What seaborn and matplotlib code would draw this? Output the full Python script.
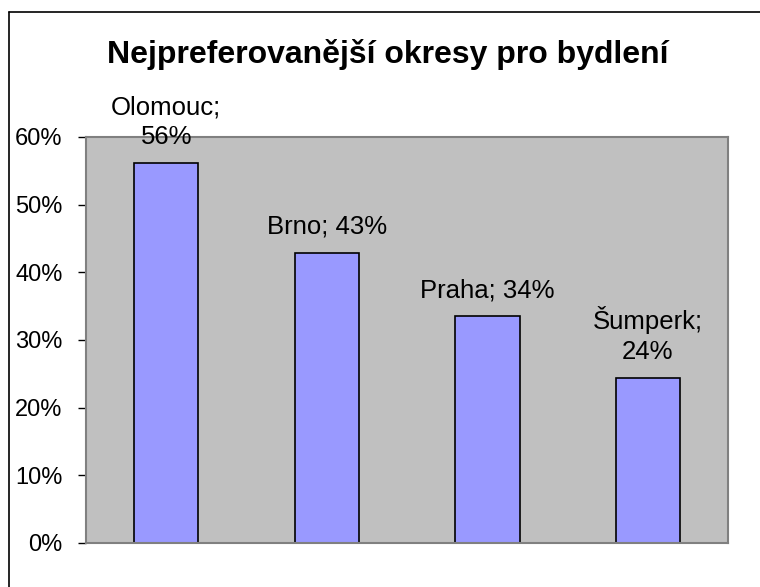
import seaborn as sns
import matplotlib.pyplot as plt
import matplotlib.lines as mlines
import pandas as pd
from matplotlib.ticker import PercentFormatter

# data
okresy = ['Olomouc', 'Brno', 'Praha', 'Šumperk']
podil = [56.2, 42.9, 33.5, 24.4]
popisky = ['Olomouc;\n56%', 'Brno; 43%', 'Praha; 34%', 'Šumperk;\n24%']
yticks = [0, 10, 20, 30, 40, 50, 60]
titulek = 'Nejpreferovanější okresy pro bydlení'

df = pd.DataFrame({'okres': okresy, 'podil': podil})

sns.set_style('white')
plt.rcParams['font.family'] = ['Liberation Sans', 'DejaVu Sans']
plt.rcParams['text.color'] = 'black'
plt.rcParams['ytick.color'] = 'black'

fig = plt.figure(figsize=(7.6, 5.87), dpi=100)
ax = fig.add_axes([0.1132, 0.075, 0.845, 0.6917])
ax.set_facecolor('#C0C0C0')

sns.barplot(x='okres', y='podil', data=df, color='#9999FF', width=0.4,
            edgecolor='black', linewidth=1.2, saturation=1, ax=ax)

txts = ax.bar_label(ax.containers[0], labels=popisky, padding=10,
                    fontsize=18.5, linespacing=1.3, clip_on=False,
                    color='black')
for t in txts:
    t.set_zorder(5)

ax.set_ylim(0, 60)
ax.set_xlim(-0.5, 3.5)
ax.set_yticks(yticks)
ax.yaxis.set_major_formatter(PercentFormatter(decimals=0))
ax.tick_params(axis='y', left=True, length=6, width=1, color='black',
               labelcolor='black', labelsize=17, pad=11)
ax.set_xticks([])
ax.set_xlabel('')
ax.set_ylabel('')
for s in ax.spines.values():
    s.set_color('#808080')
    s.set_linewidth(1.5)

fig.text(0.51, 1 - 63 / 587, titulek, ha='center', va='baseline',
         fontsize=23, fontweight='bold', color='black')

# chart frame (only top and left visible in screenshot)
fig.add_artist(mlines.Line2D([9 / 760, 1], [1 - 12 / 587, 1 - 12 / 587],
                             color='black', lw=1.2, transform=fig.transFigure))
fig.add_artist(mlines.Line2D([9 / 760, 9 / 760], [0, 1 - 12 / 587],
                             color='black', lw=1.2, transform=fig.transFigure))

fig.savefig('out.png', dpi=100)
